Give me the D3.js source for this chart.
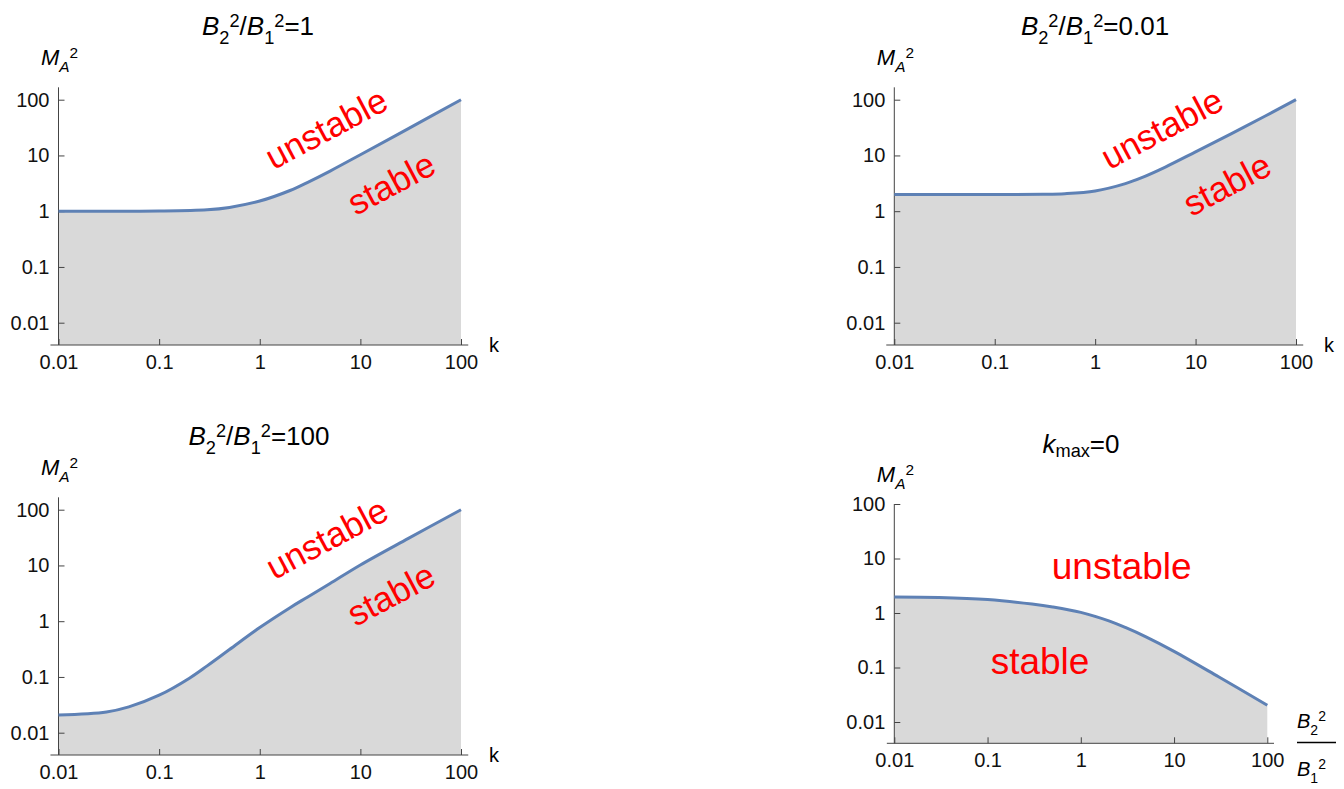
<!DOCTYPE html>
<html lang="en">
<head>
  <title>Stability boundaries</title>
  <meta charset="utf-8">
  <style>
    body { margin: 0; background: #fff; }
    svg { font-family: "Liberation Sans", Arial, sans-serif; }
    .tick text { font-size: 20px; fill: #111; }
    .tick line { stroke: #444; }
    .axisline { stroke: #444; stroke-width: 1; }
    .fill { fill: #d9d9d9; }
    .curve { fill: none; stroke: #5e81b5; stroke-width: 3; }
    .region { fill: #ff0000; }
  </style>
  <script src="https://d3js.org/d3.v7.min.js"></script>
</head>
<body>
<svg width="1344" height="789"></svg>
<script>
// ticks shared by every panel
var tickValues = [0.01, 0.1, 1, 10, 100];
var tickLabels = ["0.01", "0.1", "1", "10", "100"];

// B2^2/B1^2 = 1
var k1 = [0.01, 0.03, 0.1, 0.3, 0.5, 1, 2, 3, 5, 10, 30, 100];
var m1 = [1.0, 1.0, 1.005, 1.06, 1.17, 1.52, 2.35, 3.3, 5.25, 10.3, 30.3, 100];

// B2^2/B1^2 = 0.01
var k2 = [0.01, 0.03, 0.1, 0.3, 0.5, 1, 2, 3, 5, 10, 30, 100];
var m2 = [2.0, 2.0, 2.0, 2.01, 2.06, 2.31, 3.13, 4.1, 6.2, 11.6, 31.8, 100];

// B2^2/B1^2 = 100
var k3 = [0.01, 0.03, 0.05, 0.1, 0.2, 0.3, 0.5, 1, 2, 3, 5, 10, 30, 100];
var m3 = [0.0207, 0.0235, 0.029, 0.047, 0.095, 0.158, 0.31, 0.77, 1.75, 2.72, 4.75, 10.2, 30.6, 100];

// k_max = 0, x is B2^2/B1^2
var r4 = [0.01, 0.03, 0.1, 0.3, 0.5, 1, 2, 3, 5, 10, 30, 100];
var m4 = [1.96, 1.92, 1.76, 1.46, 1.29, 1.025, 0.715, 0.543, 0.365, 0.198, 0.0676, 0.0203];

var svg = d3.select("svg");

// text with italic / sub / sup pieces
function rich(parent, parts, size) {
    var t = parent.append("text").attr("font-size", size);
    var off = 0;
    parts.forEach(function(p) {
        var target = p.s === "sub" ? p.sh : p.s === "sup" ? -p.sh : 0;
        var sp = t.append("tspan").text(p.t).attr("dy", target - off);
        if (p.s) sp.attr("font-size", size * 0.7);
        if (p.i) sp.attr("font-style", "italic");
        off = target;
    });
    return t;
}

function ratioTitle(v) {
    return [{t: "B", i: 1}, {t: "2", s: "sub", sh: 9}, {t: "2", s: "sup", sh: 8},
            {t: "/"}, {t: "B", i: 1}, {t: "1", s: "sub", sh: 9}, {t: "2", s: "sup", sh: 8},
            {t: "=" + v}];
}
var maLabel = [{t: "M", i: 1}, {t: "A", i: 1, s: "sub", sh: 7}, {t: "2", s: "sup", sh: 7.5}];

var panels = [
    {xs: k1, ys: m1, title: ratioTitle("1"), tx: 258, ty: 35, left: 58.5, right: 461, top: 99.7, bottom: 322.7,
     yLo: Math.pow(10, -2.4), yHi: Math.pow(10, 2.222), xLab: "k", labY: 65,
     un: [326, 128, -28, 35], st: [391, 183, -28, 35]},
    {xs: k2, ys: m2, title: ratioTitle("0.01"), tx: 1095, ty: 35, left: 894.3, right: 1296, top: 99.7, bottom: 322.7,
     yLo: Math.pow(10, -2.4), yHi: Math.pow(10, 2.222), xLab: "k", labY: 65,
     un: [1161.7, 128, -28, 35], st: [1226.7, 184, -28, 35]},
    {xs: k3, ys: m3, title: ratioTitle("100"), tx: 259, ty: 445, left: 58.5, right: 461, top: 509.7, bottom: 732.7,
     yLo: Math.pow(10, -2.4), yHi: Math.pow(10, 2.222), xLab: "k", labY: 475,
     un: [326.7, 538, -28, 35], st: [390.8, 594, -28, 35]},
    {xs: r4, ys: m4, title: [{t: "k", i: 1}, {t: "max", s: "sub", sh: 4}, {t: "=0"}], tx: 1081, ty: 453,
     left: 894.3, right: 1267.3, top: 504, bottom: 722,
     yLo: Math.pow(10, -2.391), yHi: 100, xLab: null, labY: 482,
     un: [1121.7, 566, 0, 37], st: [1040, 661, 0, 37]}
];

panels.forEach(function(p) {
    var x = d3.scaleLog().domain([0.01, 100]).range([p.left, p.right]);
    var y = d3.scaleLog().domain([0.01, 100]).range([p.bottom, p.top]);
    var x0 = x(0.01), yAxis = y(p.yLo);
    var g = svg.append("g");
    var pts = p.xs.map(function(d, i) { return [d, p.ys[i]]; });
    var curve = d3.curveCatmullRom.alpha(0.5);

    g.append("path").datum(pts).attr("class", "fill")
        .attr("d", d3.area().curve(curve)
            .x(function(d) { return x(d[0]); }).y0(yAxis).y1(function(d) { return y(d[1]); }));

    // axes lines, extending a little past the data range
    g.append("line").attr("class", "axisline")
        .attr("x1", x(Math.pow(10, -2.08))).attr("x2", x(Math.pow(10, 2.072)))
        .attr("y1", yAxis).attr("y2", yAxis);
    g.append("line").attr("class", "axisline")
        .attr("x1", x0).attr("x2", x0).attr("y1", y(p.yHi)).attr("y2", yAxis);

    var ax = g.append("g").attr("transform", "translate(0," + yAxis + ")")
        .call(d3.axisBottom(x).tickValues(tickValues).tickSize(-6).tickPadding(10)
            .tickFormat(function(d, i) { return tickLabels[i]; }));
    ax.select(".domain").remove();
    ax.attr("font-family", null).attr("font-size", null);

    var ay = g.append("g").attr("transform", "translate(" + x0 + ",0)")
        .call(d3.axisLeft(y).tickValues(tickValues).tickSize(-6).tickPadding(9)
            .tickFormat(function(d, i) { return tickLabels[i]; }));
    ay.select(".domain").remove();
    ay.attr("font-family", null).attr("font-size", null);

    g.append("path").datum(pts).attr("class", "curve")
        .attr("d", d3.line().curve(curve)
            .x(function(d) { return x(d[0]); }).y(function(d) { return y(d[1]); }));

    rich(g, p.title, 26).attr("x", p.tx).attr("y", p.ty).attr("text-anchor", "middle");
    rich(g, maLabel, 22).attr("x", x0 - 17.5).attr("y", p.labY);

    if (p.xLab) {
        g.append("text").attr("x", p.right + 28).attr("y", yAxis + 7)
            .attr("font-size", 20).text(p.xLab);
    }

    [["unstable", p.un], ["stable", p.st]].forEach(function(l) {
        g.append("text").attr("class", "region")
            .attr("transform", "translate(" + l[1][0] + "," + l[1][1] + ") rotate(" + l[1][2] + ")")
            .attr("text-anchor", "middle").attr("dy", "0.36em")
            .attr("font-size", l[1][3]).text(l[0]);
    });
});

// fraction label for the last panel
var fr = svg.append("g");
rich(fr, [{t: "B", i: 1}, {t: "2", s: "sub", sh: 7}, {t: "2", s: "sup", sh: 7}], 20)
    .attr("x", 1297).attr("y", 728);
fr.append("line").attr("x1", 1297).attr("x2", 1336).attr("y1", 742.5).attr("y2", 742.5)
    .attr("stroke", "#000").attr("stroke-width", 1.3);
rich(fr, [{t: "B", i: 1}, {t: "1", s: "sub", sh: 7}, {t: "2", s: "sup", sh: 7}], 20)
    .attr("x", 1297).attr("y", 776);
</script>
</body>
</html>
